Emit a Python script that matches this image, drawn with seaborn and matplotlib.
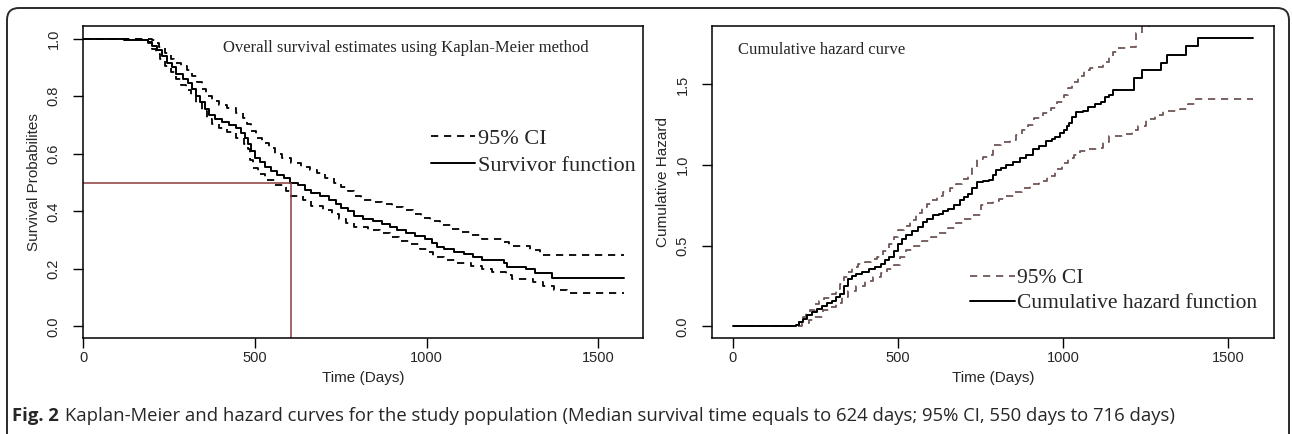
import numpy as np
import pandas as pd
import seaborn as sns
import matplotlib.pyplot as plt
from matplotlib.lines import Line2D
from matplotlib.patches import FancyBboxPatch
from matplotlib.transforms import IdentityTransform

# Kaplan-Meier survivor function (days, probability)
km_days = [0, 120, 190, 200, 215, 230, 245, 260, 272, 290,
           305, 318, 330, 342, 355, 368, 385, 405, 425, 445,
           460, 472, 480, 490, 500, 515, 530, 548, 565, 585,
           603, 625, 645, 665, 690, 715, 735, 750, 770, 790,
           815, 845, 870, 895, 915, 940, 965, 995, 1015, 1030,
           1050, 1080, 1110, 1135, 1160, 1225, 1235, 1290, 1315, 1365,
           1575]
km_surv = [1.0, 0.995, 0.99, 0.975, 0.96, 0.94, 0.915, 0.90, 0.878, 0.86,
           0.845, 0.825, 0.80, 0.78, 0.755, 0.735, 0.722, 0.712, 0.70, 0.688,
           0.672, 0.655, 0.635, 0.61, 0.585, 0.57, 0.555, 0.54, 0.528, 0.515,
           0.50, 0.49, 0.475, 0.465, 0.455, 0.44, 0.425, 0.41, 0.40, 0.385,
           0.375, 0.366, 0.355, 0.345, 0.335, 0.325, 0.315, 0.305, 0.29, 0.275,
           0.268, 0.26, 0.252, 0.242, 0.232, 0.22, 0.208, 0.198, 0.185, 0.168,
           0.168]

km_up_days = [0, 200, 210, 222, 240, 255, 265, 285, 302, 318,
              332, 345, 358, 375, 395, 420, 445, 465, 478, 490,
              505, 520, 540, 560, 580, 605, 635, 660, 680, 705,
              730, 750, 770, 790, 810, 840, 870, 900, 930, 960,
              985, 1010, 1040, 1070, 1100, 1130, 1160, 1220, 1240, 1300,
              1330, 1575]
km_upper = [1.0, 0.995, 0.985, 0.972, 0.95, 0.93, 0.917, 0.905, 0.89, 0.87,
            0.85, 0.825, 0.80, 0.785, 0.77, 0.758, 0.742, 0.725, 0.705, 0.68,
            0.655, 0.638, 0.62, 0.60, 0.585, 0.568, 0.555, 0.545, 0.532, 0.515,
            0.50, 0.485, 0.47, 0.455, 0.44, 0.432, 0.425, 0.415, 0.405, 0.39,
            0.378, 0.365, 0.352, 0.34, 0.33, 0.318, 0.305, 0.295, 0.28, 0.265,
            0.25, 0.25]

km_lo_days = [0, 190, 200, 212, 225, 240, 255, 270, 285, 300,
              315, 330, 345, 360, 375, 395, 420, 445, 470, 480,
              487, 495, 510, 530, 560, 590, 605, 640, 665, 700,
              725, 745, 765, 790, 830, 865, 895, 920, 950, 980,
              1005, 1020, 1050, 1090, 1130, 1160, 1190, 1230, 1250, 1310,
              1340, 1370, 1410, 1575]
km_lower = [1.0, 0.985, 0.965, 0.945, 0.93, 0.905, 0.885, 0.86, 0.84, 0.82,
            0.80, 0.775, 0.75, 0.72, 0.705, 0.69, 0.675, 0.655, 0.635, 0.615,
            0.58, 0.55, 0.53, 0.51, 0.49, 0.47, 0.452, 0.44, 0.42, 0.405,
            0.39, 0.372, 0.36, 0.345, 0.335, 0.325, 0.31, 0.298, 0.285, 0.27,
            0.258, 0.24, 0.232, 0.222, 0.21, 0.198, 0.19, 0.18, 0.165, 0.155,
            0.14, 0.128, 0.118, 0.118]

# median survival guide lines
median_day = 605
median_surv = 0.5

# cumulative hazard
hz_days = [0, 185, 192, 200, 211, 225, 240, 255, 270, 286,
           300, 312, 324, 336, 349, 362, 374, 392, 411, 430,
           449, 462, 474, 487, 499, 511, 524, 543, 562, 575,
           587, 606, 625, 637, 650, 668, 687, 700, 712, 725,
           738, 756, 775, 788, 798, 812, 828, 848, 868, 888,
           908, 928, 948, 965, 976, 990, 1001, 1012, 1019, 1026,
           1039, 1060, 1076, 1095, 1114, 1128, 1139, 1151, 1214, 1239,
           1296, 1314, 1371, 1407, 1575]
hz_cum = [0.0, 0.005, 0.01, 0.03, 0.048, 0.07, 0.09, 0.11, 0.125, 0.146,
          0.16, 0.18, 0.203, 0.25, 0.296, 0.315, 0.327, 0.34, 0.358, 0.37,
          0.389, 0.41, 0.43, 0.47, 0.513, 0.54, 0.565, 0.59, 0.617, 0.645,
          0.668, 0.69, 0.699, 0.715, 0.73, 0.755, 0.782, 0.80, 0.823, 0.86,
          0.896, 0.90, 0.906, 0.94, 0.968, 0.98, 1.0, 1.02, 1.045, 1.06,
          1.097, 1.12, 1.148, 1.16, 1.175, 1.2, 1.216, 1.24, 1.262, 1.299,
          1.33, 1.335, 1.361, 1.38, 1.392, 1.42, 1.434, 1.465, 1.537, 1.589,
          1.63, 1.68, 1.737, 1.79, 1.79]

hz_up_days = [0, 185, 200, 212, 223, 235, 248, 262, 275, 299,
              312, 324, 336, 349, 361, 380, 399, 418, 436, 455,
              474, 487, 499, 518, 537, 555, 574, 587, 600, 618,
              637, 656, 675, 693, 712, 725, 738, 756, 775, 788,
              812, 838, 856, 875, 894, 913, 938, 963, 982, 1001,
              1014, 1026, 1045, 1064, 1082, 1101, 1120, 1139, 1151, 1164,
              1202, 1220, 1239, 1260, 1575]
hz_upper = [0.0, 0.01, 0.03, 0.06, 0.08, 0.1, 0.141, 0.16, 0.175, 0.203,
            0.23, 0.26, 0.306, 0.34, 0.368, 0.385, 0.399, 0.415, 0.43, 0.47,
            0.513, 0.555, 0.596, 0.625, 0.658, 0.70, 0.741, 0.76, 0.782, 0.808,
            0.834, 0.86, 0.885, 0.915, 0.947, 0.99, 1.04, 1.05, 1.061, 1.123,
            1.14, 1.154, 1.185, 1.216, 1.25, 1.289, 1.32, 1.351, 1.39, 1.434,
            1.475, 1.517, 1.555, 1.589, 1.60, 1.61, 1.64, 1.672, 1.70, 1.724,
            1.734, 1.817, 1.86, 1.95, 2.3]

hz_lo_days = [0, 190, 210, 230, 250, 274, 292, 311, 330, 349,
              374, 399, 424, 449, 468, 487, 505, 524, 549, 574,
              600, 625, 650, 675, 700, 725, 750, 770, 788, 806,
              825, 850, 875, 900, 926, 950, 976, 995, 1014, 1032,
              1051, 1076, 1101, 1120, 1139, 1189, 1208, 1227, 1252, 1277,
              1302, 1352, 1377, 1402, 1575]
hz_lower = [0.0, 0.005, 0.02, 0.04, 0.06, 0.1, 0.12, 0.146, 0.18, 0.218,
            0.25, 0.28, 0.305, 0.331, 0.355, 0.383, 0.43, 0.476, 0.50, 0.527,
            0.553, 0.579, 0.61, 0.641, 0.665, 0.693, 0.755, 0.765, 0.776, 0.79,
            0.807, 0.835, 0.859, 0.88, 0.90, 0.935, 0.973, 1.01, 1.045, 1.065,
            1.087, 1.10, 1.107, 1.14, 1.18, 1.19, 1.215, 1.242, 1.283, 1.31,
            1.335, 1.345, 1.376, 1.407, 1.407]

surv_ticks = [0.0, 0.2, 0.4, 0.6, 0.8, 1.0]
hz_ticks = [0.0, 0.5, 1.0, 1.5]
day_ticks = [0, 500, 1000, 1500]

sns.set_theme(style='white')
plt.rcParams['font.family'] = ['Liberation Sans', 'DejaVu Sans']
plt.rcParams['lines.dashed_pattern'] = [4, 3.2]
serif = 'Liberation Serif'
ci_red = '#6e5656'

fig = plt.figure(figsize=(12.92, 4.34), dpi=100)
W, H = 1292, 434
ax1 = fig.add_axes([83 / W, 1 - 338 / H, 560 / W, 312 / H])
ax2 = fig.add_axes([712 / W, 1 - 338 / H, 562 / W, 312 / H])

# ---- left: Kaplan-Meier ----
sns.lineplot(x=km_up_days, y=km_upper, ax=ax1, color='black', lw=1.3, ls='--',
             drawstyle='steps-post', estimator=None, sort=False)
sns.lineplot(x=km_lo_days, y=km_lower, ax=ax1, color='black', lw=1.3, ls='--',
             drawstyle='steps-post', estimator=None, sort=False)
sns.lineplot(x=km_days, y=km_surv, ax=ax1, color='black', lw=1.4,
             drawstyle='steps-post', estimator=None, sort=False)
ax1.hlines(median_surv, 0, median_day, color='#8c3c3c', lw=1.1)
ax1.vlines(median_day, -1, median_surv, color='#8c3c3c', lw=1.1)

ax1.set_xlim(0, 1630)
ax1.set_ylim(-0.04, 1.044)
ax1.set_yticks(surv_ticks)
ax1.set_yticklabels([f'{t:.1f}' for t in surv_ticks])
ax1.set_ylabel('Survival Probabilites', fontsize=11, labelpad=4)

l_ci = Line2D([], [], color='black', lw=1.3, ls='--')
l_s = Line2D([], [], color='black', lw=1.4)
ax1.legend([l_ci, l_s], ['95% CI', 'Survivor function'], loc='upper left',
           bbox_to_anchor=(431 / W, 1 - 128 / H), bbox_transform=fig.transFigure,
           frameon=False, prop={'family': serif, 'size': 16}, handlelength=2.0,
           handletextpad=0.1, borderpad=0, borderaxespad=0, labelspacing=0.32)
fig.text(223 / W, 1 - 48 / H, 'Overall survival estimates using Kaplan-Meier method',
         family=serif, fontsize=12, va='center', ha='left')

# ---- right: cumulative hazard ----
sns.lineplot(x=hz_up_days, y=hz_upper, ax=ax2, color=ci_red, lw=1.3, ls='--',
             drawstyle='steps-post', estimator=None, sort=False)
sns.lineplot(x=hz_lo_days, y=hz_lower, ax=ax2, color=ci_red, lw=1.3, ls='--',
             drawstyle='steps-post', estimator=None, sort=False)
sns.lineplot(x=hz_days, y=hz_cum, ax=ax2, color='black', lw=1.4,
             drawstyle='steps-post', estimator=None, sort=False)

ax2.set_xlim(-63, 1638)
ax2.set_ylim(-0.072, 1.862)
ax2.set_yticks(hz_ticks)
ax2.set_yticklabels([f'{t:.1f}' for t in hz_ticks])
ax2.set_ylabel('Cumulative Hazard', fontsize=11, labelpad=4)

l_ci2 = Line2D([], [], color=ci_red, lw=1.3, ls='--')
ax2.legend([l_ci2, l_s], ['95% CI', 'Cumulative hazard function'], loc='upper left',
           bbox_to_anchor=(970 / W, 1 - 268 / H), bbox_transform=fig.transFigure,
           frameon=False, prop={'family': serif, 'size': 15.5}, handlelength=2.1,
           handletextpad=0.1, borderpad=0, borderaxespad=0, labelspacing=0.23)
fig.text(738 / W, 1 - 50 / H, 'Cumulative hazard curve',
         family=serif, fontsize=12, va='center', ha='left')

for ax in (ax1, ax2):
    ax.set_xticks(day_ticks)
    ax.set_xlabel('Time (Days)', fontsize=11, labelpad=5)
    ax.tick_params(axis='both', which='both', direction='out', length=7, width=1,
                   color='black', labelsize=10.5, left=True, bottom=True)
    ax.tick_params(axis='x', pad=2)
    ax.tick_params(axis='y', pad=9, labelrotation=90)
    for lab in ax.get_yticklabels():
        lab.set_va('center')
    for s in ax.spines.values():
        s.set_color('black')
        s.set_linewidth(1.1)
    ax.grid(False)

# caption
cap_y = 1 - 421 / H
t1 = fig.text(12 / W, cap_y, 'Fig. 2', family='Open Sans', weight='bold',
              fontsize=13.3, va='baseline', ha='left')
fig.canvas.draw()
bb = t1.get_window_extent()
fig.text((bb.x1 + 6) / W, cap_y,
         'Kaplan-Meier and hazard curves for the study population (Median survival time '
         'equals to 624 days; 95% CI, 550 days to 716 days)',
         family='Open Sans', fontsize=13.3, va='baseline', ha='left')

# rounded frame around the figure
frame = FancyBboxPatch((7, -12), 1282, 438, boxstyle='round,pad=0,rounding_size=12',
                       transform=IdentityTransform(), fill=False, ec='#2a2a2a', lw=1.4)
fig.patches.append(frame)

fig.savefig('out.png', dpi=100)
